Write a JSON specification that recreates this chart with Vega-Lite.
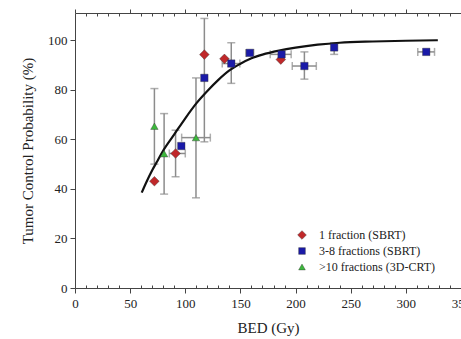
{
  "$schema": "https://vega.github.io/schema/vega-lite/v6.json",
  "width": 386,
  "height": 275,
  "autosize": {"type": "none"},
  "padding": {"left": 75, "top": 13, "right": 0, "bottom": 51},
  "background": "white",
  "config": {
    "font": "'Liberation Serif', 'DejaVu Serif', serif",
    "view": {"stroke": null},
    "axis": {"labelFont": "'Liberation Serif', 'DejaVu Serif', serif", "titleFont": "'Liberation Serif', 'DejaVu Serif', serif"},
    "legend": {"labelFont": "'Liberation Serif', 'DejaVu Serif', serif", "titleFont": "'Liberation Serif', 'DejaVu Serif', serif"}
  },
  "datasets": {
    "pts": [
      {"g": "1 fraction (SBRT)", "x": 72, "y": 43.1},
      {"g": ">10 fractions (3D-CRT)", "x": 72, "y": 65.3, "ylo": 50, "yhi": 80.5},
      {"g": ">10 fractions (3D-CRT)", "x": 80.8, "y": 54.2, "ylo": 37.9, "yhi": 70.4},
      {"g": "1 fraction (SBRT)", "x": 91.2, "y": 54.3, "ylo": 44.9, "yhi": 63.7, "xlo": 85.5, "xhi": 100},
      {"g": "3-8 fractions (SBRT)", "x": 96.4, "y": 57.3},
      {"g": ">10 fractions (3D-CRT)", "x": 109.7, "y": 60.7, "ylo": 36.4, "yhi": 84.8, "xlo": 96.7, "xhi": 122.7},
      {"g": "3-8 fractions (SBRT)", "x": 117.3, "y": 84.8, "ylo": 59, "yhi": 108.8},
      {"g": "1 fraction (SBRT)", "x": 117.3, "y": 94.2},
      {"g": "1 fraction (SBRT)", "x": 135.5, "y": 92.5},
      {"g": "3-8 fractions (SBRT)", "x": 141.7, "y": 90.6, "ylo": 82.6, "yhi": 99, "xlo": 133.5, "xhi": 149.5},
      {"g": "3-8 fractions (SBRT)", "x": 158.5, "y": 94.9, "xlo": 155, "xhi": 162},
      {"g": "1 fraction (SBRT)", "x": 186.6, "y": 92.2},
      {"g": "3-8 fractions (SBRT)", "x": 187.3, "y": 94.3, "xlo": 177, "xhi": 196},
      {"g": "3-8 fractions (SBRT)", "x": 208, "y": 89.6, "ylo": 84.3, "yhi": 95.3, "xlo": 197, "xhi": 218.8},
      {"g": "3-8 fractions (SBRT)", "x": 235, "y": 97.1, "ylo": 94.3, "yhi": 99},
      {"g": "3-8 fractions (SBRT)", "x": 318.5, "y": 95.3, "xlo": 310.8, "xhi": 326}
    ],
    "curve": [
      {"x": 60.5, "y": 38.5}, {"x": 65, "y": 43}, {"x": 70, "y": 47.5}, {"x": 75, "y": 51.5},
      {"x": 80, "y": 55.5}, {"x": 90, "y": 62}, {"x": 100, "y": 68.5}, {"x": 110, "y": 74.5},
      {"x": 120, "y": 79.5}, {"x": 130, "y": 84}, {"x": 140, "y": 87.8}, {"x": 150, "y": 90.5},
      {"x": 160, "y": 92.7}, {"x": 170, "y": 94.2}, {"x": 185, "y": 95.8}, {"x": 200, "y": 97},
      {"x": 220, "y": 98.2}, {"x": 240, "y": 99}, {"x": 270, "y": 99.5}, {"x": 300, "y": 99.8},
      {"x": 329, "y": 100}
    ]
  },
  "resolve": {"axis": {"x": "independent"}},
  "layer": [
    {
      "data": {"name": "pts"},
      "transform": [{"filter": "isValid(datum.ylo)"}],
      "mark": {"type": "rule", "color": "#8c8c8c", "strokeWidth": 1.5},
      "encoding": {
        "x": {"field": "x", "type": "quantitative", "scale": {"domain": [0, 350], "nice": false},
          "axis": {"orient": "top", "values": [0,10,20,30,40,50,60,70,80,90,100,110,120,130,140,150,160,170,180,190,200,210,220,230,240,250,260,270,280,290,300,310,320,330,340,350],
            "labels": false, "title": null, "grid": false, "domainColor": "#444", "tickColor": "#444",
            "tickSize": {"condition": {"test": "datum.value % 50 === 0", "value": 4}, "value": -3}}},
        "y": {"field": "ylo", "type": "quantitative"},
        "y2": {"field": "yhi"}
      }
    },
    {
      "data": {"name": "pts"},
      "transform": [{"filter": "isValid(datum.ylo)"}, {"fold": ["ylo", "yhi"], "as": ["k", "v"]}],
      "mark": {"type": "tick", "orient": "horizontal", "color": "#8c8c8c", "size": 8, "thickness": 1.5},
      "encoding": {
        "x": {"field": "x", "type": "quantitative", "axis": null},
        "y": {"field": "v", "type": "quantitative"}
      }
    },
    {
      "data": {"name": "pts"},
      "transform": [{"filter": "isValid(datum.xlo)"}],
      "mark": {"type": "rule", "color": "#8c8c8c", "strokeWidth": 1.5},
      "encoding": {
        "x": {"field": "xlo", "type": "quantitative", "axis": null},
        "x2": {"field": "xhi"},
        "y": {"field": "y", "type": "quantitative"}
      }
    },
    {
      "data": {"name": "pts"},
      "transform": [{"filter": "isValid(datum.xlo)"}, {"fold": ["xlo", "xhi"], "as": ["k", "v"]}],
      "mark": {"type": "tick", "orient": "vertical", "color": "#8c8c8c", "size": 8, "thickness": 1.5},
      "encoding": {
        "x": {"field": "v", "type": "quantitative", "axis": null},
        "y": {"field": "y", "type": "quantitative"}
      }
    },
    {
      "data": {"name": "curve"},
      "mark": {"type": "line", "color": "#111", "strokeWidth": 2.2, "interpolate": "monotone"},
      "encoding": {
        "x": {"field": "x", "type": "quantitative",
          "axis": {"orient": "bottom", "values": [0,10,20,30,40,50,60,70,80,90,100,110,120,130,140,150,160,170,180,190,200,210,220,230,240,250,260,270,280,290,300,310,320,330,340,350],
            "labelExpr": "datum.value % 50 === 0 ? datum.label : ''", "labelOverlap": false, "labelFlush": false,
            "labelFontSize": 13, "labelColor": "#222", "labelPadding": 4,
            "title": "BED (Gy)", "titleFontSize": 15, "titleFontWeight": "normal", "titleColor": "#222", "titlePadding": 10,
            "grid": false, "domainColor": "#444", "tickColor": "#444",
            "tickSize": {"condition": {"test": "datum.value % 50 === 0", "value": 5}, "value": -3}}},
        "y": {"field": "y", "type": "quantitative", "scale": {"domain": [0, 111], "nice": false},
          "axis": {"values": [0,5,10,15,20,25,30,35,40,45,50,55,60,65,70,75,80,85,90,95,100,105,110],
            "labelExpr": "datum.value % 20 === 0 ? datum.label : ''", "labelOverlap": false,
            "labelFontSize": 13, "labelColor": "#222", "labelPadding": 3,
            "title": "Tumor Control Probability (%)", "titleFontSize": 15, "titleFontWeight": "normal", "titleColor": "#222", "titlePadding": 12,
            "grid": false, "domainColor": "#444", "tickColor": "#444",
            "tickSize": {"condition": {"test": "datum.value % 20 === 0", "value": 5}, "value": -3}}}
      }
    },
    {
      "data": {"name": "pts"},
      "mark": {"type": "point", "filled": true, "opacity": 1, "size": 55, "stroke": "#333", "strokeWidth": 0.4},
      "encoding": {
        "x": {"field": "x", "type": "quantitative", "axis": null},
        "y": {"field": "y", "type": "quantitative"},
        "color": {"field": "g", "type": "nominal",
          "scale": {"domain": ["1 fraction (SBRT)", "3-8 fractions (SBRT)", ">10 fractions (3D-CRT)"], "range": ["#c0282a", "#1a1aa8", "#3cb83c"]},
          "legend": {"orient": "none", "legendX": 221, "legendY": 216, "title": null, "labelFontSize": 12, "labelColor": "#222", "symbolSize": 45, "symbolStrokeWidth": 0.4, "rowPadding": 4, "labelOffset": 11}},
        "shape": {"field": "g", "type": "nominal",
          "scale": {"domain": ["1 fraction (SBRT)", "3-8 fractions (SBRT)", ">10 fractions (3D-CRT)"], "range": ["M0,-1.3L1.3,0L0,1.3L-1.3,0Z", "square", "triangle-up"]}}
      }
    }
  ]
}
